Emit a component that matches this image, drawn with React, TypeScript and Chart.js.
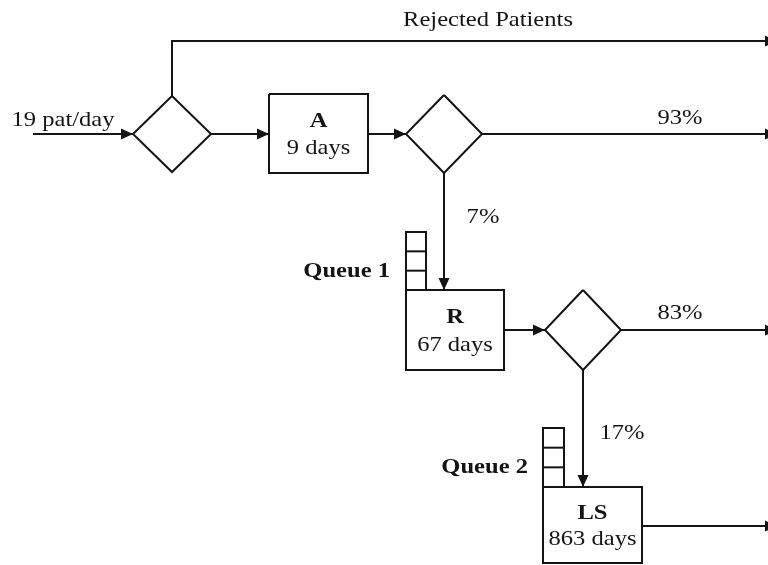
import React, { useEffect, useRef } from "react";
import { Chart, registerables } from "chart.js";

Chart.register(...registerables);

// ---- values shown in the diagram ----
const arrivalRate = 19;
const stageNames = ["A", "R", "LS"];
const stageDays = [9, 67, 863];
const exitShares = [93, 83];
const nextShares = [7, 17];
const queueNames = ["Queue 1", "Queue 2"];
const rejectedLabel = "Rejected Patients";

// ---- layout in diagram units (x 0..768, y 0..565, top-down) ----
const W = 768;
const H = 565;
const rowY = [134, 330, 526];
const boxLeft = [269, 406, 543];
const boxRight = [368, 504, 642];
const boxTop = [94, 290, 487];
const boxBottom = [173, 370, 563];
const diamondCX = [172, 444, 583];
const diamondCY = [134, 134, 330];
const diamondHW = [39, 38, 38];
const diamondHH = [38, 39, 40];
const rejectY = 41;
const inputX = 33;
const rightEdge = 767;
const queueLeft = [406, 543];
const queueRight = [426, 564];
const queueTop = [232, 428];

type P = { x: number; y: number };

function buildSegments(): P[][] {
  const segs: P[][] = [];
  for (let i = 0; i < 3; i++) {
    segs.push([
      { x: boxLeft[i], y: boxTop[i] },
      { x: boxRight[i], y: boxTop[i] },
      { x: boxRight[i], y: boxBottom[i] },
      { x: boxLeft[i], y: boxBottom[i] },
      { x: boxLeft[i], y: boxTop[i] },
    ]);
  }
  for (let i = 0; i < 3; i++) {
    const cx = diamondCX[i], cy = diamondCY[i], hw = diamondHW[i], hh = diamondHH[i];
    segs.push([
      { x: cx, y: cy - hh },
      { x: cx + hw, y: cy },
      { x: cx, y: cy + hh },
      { x: cx - hw, y: cy },
      { x: cx, y: cy - hh },
    ]);
  }
  for (let i = 0; i < 2; i++) {
    const l = queueLeft[i], r = queueRight[i], t = queueTop[i], b = boxTop[i + 1];
    const step = (b - t) / 3;
    segs.push([
      { x: l, y: b },
      { x: l, y: t },
      { x: r, y: t },
      { x: r, y: b },
    ]);
    segs.push([{ x: l, y: t + step }, { x: r, y: t + step }]);
    segs.push([{ x: l, y: t + 2 * step }, { x: r, y: t + 2 * step }]);
  }
  segs.push([{ x: inputX, y: rowY[0] }, { x: diamondCX[0] - diamondHW[0], y: rowY[0] }]);
  segs.push([
    { x: diamondCX[0], y: diamondCY[0] - diamondHH[0] },
    { x: diamondCX[0], y: rejectY },
    { x: rightEdge, y: rejectY },
  ]);
  segs.push([{ x: diamondCX[0] + diamondHW[0], y: rowY[0] }, { x: boxLeft[0], y: rowY[0] }]);
  segs.push([{ x: boxRight[0], y: rowY[0] }, { x: diamondCX[1] - diamondHW[1], y: rowY[0] }]);
  segs.push([{ x: diamondCX[1] + diamondHW[1], y: rowY[0] }, { x: rightEdge, y: rowY[0] }]);
  segs.push([{ x: diamondCX[1], y: diamondCY[1] + diamondHH[1] }, { x: diamondCX[1], y: boxTop[1] }]);
  segs.push([{ x: boxRight[1], y: rowY[1] }, { x: diamondCX[2] - diamondHW[2], y: rowY[1] }]);
  segs.push([{ x: diamondCX[2] + diamondHW[2], y: rowY[1] }, { x: rightEdge, y: rowY[1] }]);
  segs.push([{ x: diamondCX[2], y: diamondCY[2] + diamondHH[2] }, { x: diamondCX[2], y: boxTop[2] }]);
  segs.push([{ x: boxRight[2], y: rowY[2] }, { x: rightEdge, y: rowY[2] }]);
  return segs;
}

function buildArrows(): [number, number, string][] {
  return [
    [diamondCX[0] - diamondHW[0], rowY[0], "r"],
    [boxLeft[0], rowY[0], "r"],
    [diamondCX[1] - diamondHW[1], rowY[0], "r"],
    [diamondCX[1], boxTop[1], "d"],
    [diamondCX[2] - diamondHW[2], rowY[1], "r"],
    [diamondCX[2], boxTop[2], "d"],
    [rightEdge + 10, rejectY, "r"],
    [rightEdge + 10, rowY[0], "r"],
    [rightEdge + 10, rowY[1], "r"],
    [rightEdge + 10, rowY[2], "r"],
  ];
}

type T = { s: string; x: number; y: number; bold?: boolean; align?: CanvasTextAlign };

function buildTexts(): T[] {
  const t: T[] = [];
  t.push({ s: rejectedLabel, x: 488, y: 20 });
  t.push({ s: `${arrivalRate} pat/day`, x: 63, y: 120 });
  for (let i = 0; i < 3; i++) {
    const cx = (boxLeft[i] + boxRight[i]) / 2;
    const h = boxBottom[i] - boxTop[i];
    t.push({ s: stageNames[i], x: cx, y: boxTop[i] + h * 0.35, bold: true });
    t.push({ s: `${stageDays[i]} days`, x: cx, y: boxTop[i] + h * 0.69 });
  }
  t.push({ s: `${exitShares[0]}%`, x: 680, y: rowY[0] - 16 });
  t.push({ s: `${exitShares[1]}%`, x: 680, y: rowY[1] - 17 });
  t.push({ s: `${nextShares[0]}%`, x: diamondCX[1] + 39, y: 217 });
  t.push({ s: `${nextShares[1]}%`, x: diamondCX[2] + 39, y: 433 });
  t.push({ s: queueNames[0], x: 390, y: 272, bold: true, align: "right" });
  t.push({ s: queueNames[1], x: 528, y: 468, bold: true, align: "right" });
  return t;
}

const INK = "#141414";
const FONT_PX = 21;
const X_STRETCH = 1.17;
const FAMILY = '"Liberation Serif", "Times New Roman", serif';

const overlay = {
  id: "diagramOverlay",
  afterDatasetsDraw(chart: any) {
    const ctx: CanvasRenderingContext2D = chart.ctx;
    const xs = chart.scales.x;
    const ys = chart.scales.y;
    const px = (v: number) => xs.getPixelForValue(v);
    const py = (v: number) => ys.getPixelForValue(v);
    ctx.save();
    ctx.fillStyle = INK;
    for (const [x, y, d] of buildArrows()) {
      const X = px(x), Y = py(y);
      ctx.beginPath();
      if (d === "r") {
        ctx.moveTo(X, Y);
        ctx.lineTo(X - 12, Y - 5.5);
        ctx.lineTo(X - 12, Y + 5.5);
      } else {
        ctx.moveTo(X, Y);
        ctx.lineTo(X - 5.5, Y - 12);
        ctx.lineTo(X + 5.5, Y - 12);
      }
      ctx.closePath();
      ctx.fill();
    }
    ctx.textBaseline = "middle";
    for (const t of buildTexts()) {
      ctx.save();
      ctx.font = `${t.bold ? "bold " : ""}${FONT_PX}px ${FAMILY}`;
      ctx.textAlign = t.align || "center";
      ctx.translate(px(t.x), py(t.y));
      ctx.scale(X_STRETCH, 1);
      ctx.fillText(t.s, 0, 0);
      ctx.restore();
    }
    ctx.restore();
  },
};

const whiteBg = {
  id: "whiteBg",
  beforeDraw(chart: any) {
    const ctx = chart.ctx;
    ctx.save();
    ctx.fillStyle = "#ffffff";
    ctx.fillRect(0, 0, chart.width, chart.height);
    ctx.restore();
  },
};

export default function App() {
  const ref = useRef<HTMLCanvasElement | null>(null);
  useEffect(() => {
    document.body.style.margin = "0";
    let chart: Chart | null = null;
    let cancelled = false;
    const make = () => {
      if (cancelled || !ref.current) return;
      const datasets = buildSegments().map((pts) => ({
        data: pts,
        showLine: true,
        borderColor: INK,
        borderWidth: 2,
        pointRadius: 0,
        fill: false,
        tension: 0,
        clip: false as any,
      }));
      chart = new Chart(ref.current, {
        type: "scatter",
        data: { datasets },
        options: {
          animation: false,
          responsive: false,
          devicePixelRatio: 1,
          layout: { padding: 0 },
          plugins: { legend: { display: false }, tooltip: { enabled: false } },
          events: [],
          scales: {
            x: { type: "linear", min: 0, max: W, display: false },
            y: { type: "linear", min: 0, max: H, reverse: true, display: false },
          },
        },
        plugins: [whiteBg, overlay],
      });
    };
    const fonts: any = (document as any).fonts;
    if (fonts && fonts.load) {
      Promise.all([
        fonts.load(`${FONT_PX}px ${FAMILY}`),
        fonts.load(`bold ${FONT_PX}px ${FAMILY}`),
      ]).then(make, make);
    } else {
      make();
    }
    return () => {
      cancelled = true;
      if (chart) chart.destroy();
    };
  }, []);
  return (
    <div style={{ position: "absolute", left: 0, top: 0, width: W, height: H }}>
      <canvas ref={ref} width={W} height={H} />
    </div>
  );
}
